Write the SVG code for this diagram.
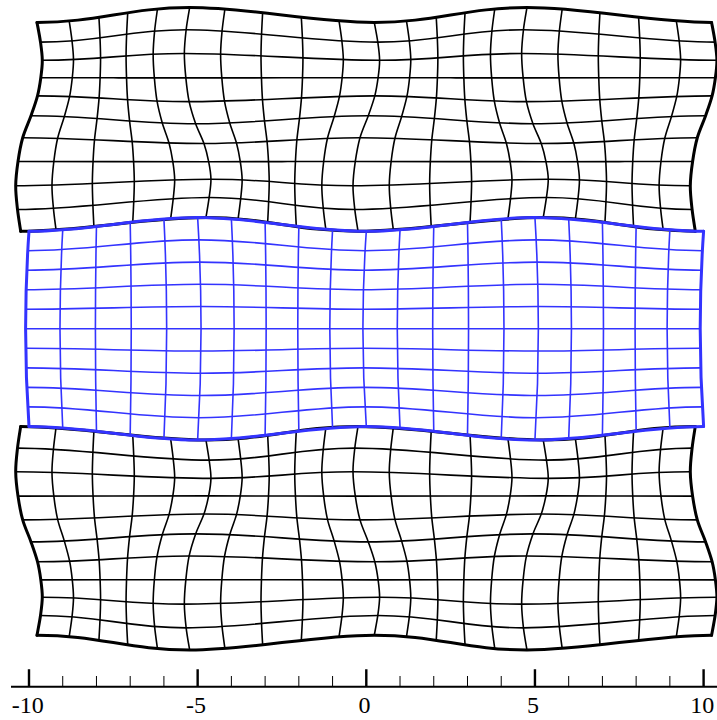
<svg xmlns="http://www.w3.org/2000/svg" width="717" height="720" viewBox="0 0 717 720">
<style>
.k{stroke:#000;stroke-width:1.6;fill:none;stroke-linejoin:round}
.ke{stroke:#000;stroke-width:3;fill:none;stroke-linecap:round;stroke-linejoin:round}
.b{stroke:#3333ff;stroke-width:1.6;fill:none;stroke-linejoin:round}
.be{stroke:#3333ff;stroke-width:3;fill:none;stroke-linecap:round;stroke-linejoin:round}
.ax{stroke:#000;fill:none}
.lbl{font-family:"Liberation Serif","Times New Roman",serif;font-size:24px;fill:#000;text-anchor:middle}
</style>
<defs>
<path id="cw" vector-effect="non-scaling-stroke" d="M-10,1 C-9.095,1 -8.315,0.512 -7.5,0 C-6.685,-0.512 -5.905,-1 -5,-1 C-4.095,-1 -3.315,-0.512 -2.5,0 C-1.685,0.512 -0.905,1 0,1 C0.905,1 1.685,0.512 2.5,0 C3.315,-0.512 4.095,-1 5,-1 C5.905,-1 6.685,-0.512 7.5,0 C8.315,0.512 9.095,1 10,1"/>
<path id="v1" d="M8,22.4 C8.58,25.69 10.62,35.83 11.5,42.14 S13.25,54.35 13.3,60.28 S12.6,71.79 11.8,77.72 S10.13,89.53 8.5,95.86 S4.47,108.72 2,115.7 S-4.13,130.11 -6.3,137.74 S-9.83,153.47 -11,161.48 S-13.22,177.82 -13.3,185.82 S-12.33,201.9 -11.5,209.46 S-8.83,227.58 -8.3,231.2"/>
<path id="v2" d="M6.47,20.99 C6.94,24.32 8.59,34.52 9.3,40.96 S10.72,53.5 10.76,59.63 S10.2,71.61 9.55,77.74 S8.2,89.96 6.88,96.41 S3.62,109.48 1.62,116.46 S-3.35,130.78 -5.1,138.29 S-7.96,153.68 -8.9,161.5 S-10.69,177.39 -10.76,185.19 S-9.97,200.86 -9.3,208.31 S-7.14,226.3 -6.71,229.9"/>
<path id="v3" d="M2.47,17.29 C2.65,20.72 3.28,31.09 3.55,37.86 S4.1,51.27 4.11,57.93 S3.9,71.13 3.65,77.79 S3.14,91.08 2.63,97.86 S1.38,111.48 0.62,118.46 S-1.28,132.56 -1.95,139.74 S-3.04,154.25 -3.4,161.55 S-4.08,176.25 -4.11,183.54 S-3.81,198.15 -3.55,205.31 S-2.73,222.97 -2.56,226.5"/>
<path id="v4" d="M-2.47,12.71 C-2.65,16.26 -3.28,26.83 -3.55,34.02 S-4.1,48.53 -4.11,55.83 S-3.9,70.55 -3.65,77.85 S-3.14,92.48 -2.63,99.66 S-1.38,113.96 -0.62,120.94 S1.28,134.76 1.95,141.54 S3.04,154.95 3.4,161.61 S4.08,174.83 4.11,181.5 S3.81,194.81 3.55,201.61 S2.73,218.85 2.56,222.3"/>
<path id="v5" d="M-6.47,9.01 C-6.94,12.66 -8.59,23.4 -9.3,30.92 S-10.72,46.3 -10.76,54.13 S-10.2,70.07 -9.55,77.9 S-8.2,93.6 -6.88,101.11 S-3.62,115.96 -1.62,122.94 S3.35,136.54 5.1,142.99 S7.96,155.52 8.9,161.66 S10.69,173.69 10.76,179.85 S9.97,192.1 9.3,198.61 S7.14,215.52 6.71,218.9"/>
<path id="v6" d="M-8,7.6 C-8.58,11.29 -10.62,22.09 -11.5,29.74 S-13.25,45.45 -13.3,53.48 S-12.6,69.89 -11.8,77.92 S-10.13,94.03 -8.5,101.66 S-4.47,116.72 -2,123.7 S4.13,137.21 6.3,143.54 S9.83,155.73 11,161.68 S13.22,173.26 13.3,179.22 S12.33,191.06 11.5,197.46 S8.83,214.24 8.3,217.6"/>
</defs>

<g id="top-band">
  <g class="k">
    <use href="#cw" transform="matrix(33.73 0 11.5 6.2 366.3 35.94)"/>
    <use href="#cw" transform="matrix(33.73 0 13.3 3.4 366.3 56.88)"/>
    <use href="#cw" transform="matrix(33.73 0 11.8 -0.1 366.3 77.82)"/>
    <use href="#cw" transform="matrix(33.73 0 8.5 -2.9 366.3 98.76)"/>
    <use href="#cw" transform="matrix(33.73 0 2 -4 366.3 119.7)"/>
    <use href="#cw" transform="matrix(33.73 0 -6.3 -2.9 366.3 140.64)"/>
    <use href="#cw" transform="matrix(33.73 0 -11 -0.1 366.3 161.58)"/>
    <use href="#cw" transform="matrix(33.73 0 -13.3 3.3 366.3 182.52)"/>
    <use href="#cw" transform="matrix(33.73 0 -11.5 6 366.3 203.46)"/>
    <use href="#v2" x="62.73"/>
    <use href="#v3" x="96.46"/>
    <use href="#v4" x="130.19"/>
    <use href="#v5" x="163.92"/>
    <use href="#v6" x="197.65"/>
    <use href="#v5" x="231.38"/>
    <use href="#v4" x="265.11"/>
    <use href="#v3" x="298.84"/>
    <use href="#v2" x="332.57"/>
    <use href="#v1" x="366.3"/>
    <use href="#v2" x="400.03"/>
    <use href="#v3" x="433.76"/>
    <use href="#v4" x="467.49"/>
    <use href="#v5" x="501.22"/>
    <use href="#v6" x="534.95"/>
    <use href="#v5" x="568.68"/>
    <use href="#v4" x="602.41"/>
    <use href="#v3" x="636.14"/>
    <use href="#v2" x="669.87"/>
  </g>
  <g class="ke">
    <use href="#cw" transform="matrix(33.73 0 8 7.4 366.3 15)"/>
    <use href="#cw" transform="matrix(33.73 0 -8.3 6.8 366.3 224.4)"/>
    <use href="#v1" x="29"/>
    <use href="#v1" x="703.6"/>
  </g>
</g>

<use id="bottom-band" href="#top-band" transform="matrix(1 0 0 -1 0 657.6)"/>

<g id="middle-band">
  <g class="b">
    <use href="#cw" transform="matrix(33.73 0 -1.224 5.44 366.3 245.28)"/>
    <use href="#cw" transform="matrix(33.73 0 -2.176 4.08 366.3 266.16)"/>
    <use href="#cw" transform="matrix(33.73 0 -2.856 2.72 366.3 287.04)"/>
    <use href="#cw" transform="matrix(33.73 0 -3.264 1.36 366.3 307.92)"/>
    <path d="M25.6,328.8 H700.2"/>
    <use href="#cw" transform="matrix(33.73 0 -3.264 -1.36 366.3 349.68)"/>
    <use href="#cw" transform="matrix(33.73 0 -2.856 -2.72 366.3 370.56)"/>
    <use href="#cw" transform="matrix(33.73 0 -2.176 -4.08 366.3 391.44)"/>
    <use href="#cw" transform="matrix(33.73 0 -1.224 -5.44 366.3 412.32)"/>
    <path d="M62.73,229.9 Q57.23,328.8 62.73,427.7"/>
    <path d="M96.46,226.5 Q94.36,328.8 96.46,431.1"/>
    <path d="M130.19,222.3 Q132.29,328.8 130.19,435.3"/>
    <path d="M163.92,218.9 Q169.42,328.8 163.92,438.7"/>
    <path d="M197.65,217.6 Q204.45,328.8 197.65,440"/>
    <path d="M231.38,218.9 Q236.88,328.8 231.38,438.7"/>
    <path d="M265.11,222.3 Q267.21,328.8 265.11,435.3"/>
    <path d="M298.84,226.5 Q296.74,328.8 298.84,431.1"/>
    <path d="M332.57,229.9 Q327.07,328.8 332.57,427.7"/>
    <path d="M366.3,231.2 Q359.5,328.8 366.3,426.4"/>
    <path d="M400.03,229.9 Q394.53,328.8 400.03,427.7"/>
    <path d="M433.76,226.5 Q431.66,328.8 433.76,431.1"/>
    <path d="M467.49,222.3 Q469.59,328.8 467.49,435.3"/>
    <path d="M501.22,218.9 Q506.72,328.8 501.22,438.7"/>
    <path d="M534.95,217.6 Q541.75,328.8 534.95,440"/>
    <path d="M568.68,218.9 Q574.18,328.8 568.68,438.7"/>
    <path d="M602.41,222.3 Q604.51,328.8 602.41,435.3"/>
    <path d="M636.14,226.5 Q634.04,328.8 636.14,431.1"/>
    <path d="M669.87,229.9 Q664.37,328.8 669.87,427.7"/>
  </g>
  <g class="be">
    <use href="#cw" transform="matrix(33.73 0 0.001 6.8 366.3 224.4)"/>
    <use href="#cw" transform="matrix(33.73 0 0.001 -6.8 366.3 433.2)"/>
    <path d="M29,231.2 Q22.2,328.8 29,426.4"/>
    <path d="M703.6,231.2 Q696.8,328.8 703.6,426.4"/>
  </g>
</g>

<g id="axis">
  <path class="ax" stroke-width="2" d="M11,686.7 H717"/>
  <path class="ax" stroke-width="2.4" d="M29,669.3 V686.7 M197.65,669.3 V686.7 M366.3,669.3 V686.7 M534.95,669.3 V686.7 M703.6,669.3 V686.7"/>
  <path class="ax" stroke-width="1" d="M62.73,676 V686.7 M96.46,676 V686.7 M130.19,676 V686.7 M163.92,676 V686.7 M231.38,676 V686.7 M265.11,676 V686.7 M298.84,676 V686.7 M332.57,676 V686.7 M400.03,676 V686.7 M433.76,676 V686.7 M467.49,676 V686.7 M501.22,676 V686.7 M568.68,676 V686.7 M602.41,676 V686.7 M636.14,676 V686.7 M669.87,676 V686.7"/>
  <text class="lbl" x="27.8" y="712.5">-10</text>
  <text class="lbl" x="196" y="712.5">-5</text>
  <text class="lbl" x="364.6" y="712.5">0</text>
  <text class="lbl" x="533" y="712.5">5</text>
  <text class="lbl" x="702.3" y="712.5">10</text>
</g>
</svg>
